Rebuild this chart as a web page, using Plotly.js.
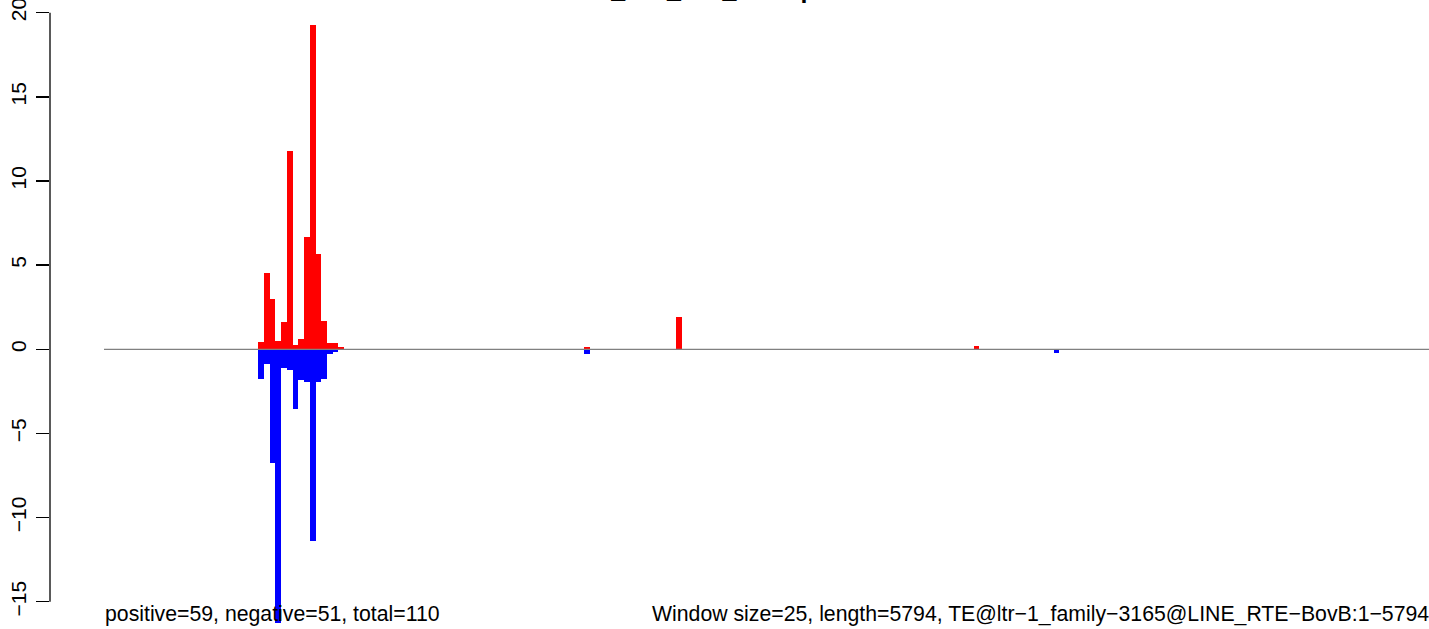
<!DOCTYPE html>
<html>
<head>
<meta charset="utf-8">
<script src="https://cdn.plot.ly/plotly-3.0.1.min.js"></script>
<style>html,body{margin:0;padding:0;background:#fff;}#chart{width:1429px;height:629px;}</style>
</head>
<body>
<div id="chart"></div>
<script>
// ---- data ----
const windowSize = 25;
const seqLength = 5794;
const windowStarts = [676, 701, 726, 751, 776, 801, 826, 851, 876, 901, 926, 951, 976, 1001, 1026, 2101, 2501, 3801, 4151];
const positiveValues = [0.43, 4.53, 2.97, 0.49, 1.6, 11.76, 0.26, 0.61, 6.65, 19.25, 5.64, 1.66, 0.39, 0.39, 0.12, 0.14, 1.9, 0.2, 0];
const negativeValues = [-1.76, -0.9, -6.76, -16.24, -1.12, -1.22, -3.57, -1.8, -1.94, -11.4, -1.94, -1.76, -0.26, -0.15, 0, -0.26, 0, 0, -0.22];
const yTicks = [-15, -10, -5, 0, 5, 10, 15, 20];
const titleText = "Bovine_001_002_rRNApooled";
const leftNote = "positive=59, negative=51, total=110";
const rightNote = "Window size=25, length=5794, TE@ltr\u22121_family\u22123165@LINE_RTE\u2212BovB:1\u22125794";

// ---- build traces ----
const font = '"Liberation Sans", Arial, Helvetica, sans-serif';
const centers = windowStarts.map(s => s - 1 + windowSize / 2);
const posX = [], posY = [], negX = [], negY = [];
windowStarts.forEach((s, i) => {
  if (positiveValues[i] !== 0) { posX.push(centers[i]); posY.push(positiveValues[i]); }
  if (negativeValues[i] !== 0) { negX.push(centers[i]); negY.push(negativeValues[i]); }
});

const traces = [
  { type: 'scatter', mode: 'lines', x: [1, seqLength], y: [0, 0],
    line: { color: '#808080', width: 1.3 }, hoverinfo: 'skip', showlegend: false, cliponaxis: true },
  { type: 'bar', x: posX, y: posY, width: windowSize, marker: { color: '#FF0000', line: { width: 0 } }, showlegend: false },
  { type: 'bar', x: negX, y: negY, width: windowSize, marker: { color: '#0000FF', line: { width: 0 } }, showlegend: false }
];

// pixel mapping: bp 1 at 104px, 0.2289 px per bp, plot starts at 50px
const W = 1429, H = 629, L = 50;
const pxPerBp = 0.2289;
const xLeft = 1 - (104 - L) / pxPerBp;
const xRight = 1 + (W - 104) / pxPerBp;
const zeroPx = 349.3, pxPerUnit = 16.83;
const yTop = zeroPx / pxPerUnit;
const yBottom = -(H - zeroPx) / pxPerUnit;
const rightEndPaper = (104 + (seqLength - 1) * pxPerBp - L) / (W - L);

const layout = {
  width: W, height: H,
  margin: { l: L, r: 0, t: 0, b: 0, pad: 0 },
  paper_bgcolor: '#fff', plot_bgcolor: '#fff',
  barmode: 'overlay', bargap: 0,
  showlegend: false,
  xaxis: { type: 'linear', range: [xLeft, xRight], visible: false, fixedrange: true },
  yaxis: {
    range: [yBottom, yTop], tickvals: yTicks, ticktext: yTicks.map(v => v < 0 ? '\u2212' + Math.abs(v) : String(v)),
    ticks: 'outside', ticklen: 13, tickwidth: 1.3, tickcolor: '#000',
    showline: false, showgrid: false, zeroline: false, tickangle: -90,
    ticklabeloverflow: 'allow', ticklabelstandoff: 2,
    tickfont: { family: font, size: 21, color: '#000' }, fixedrange: true
  },
  shapes: [
    { type: 'line', xref: 'paper', yref: 'y', x0: 0, x1: 0, y0: Math.min(...yTicks), y1: Math.max(...yTicks),
      line: { color: '#000', width: 1.3 } }
  ],
  annotations: [
    { text: leftNote, xref: 'x', yref: 'y', x: 1, y: -15.73, xanchor: 'left', yanchor: 'middle',
      showarrow: false, borderpad: 0, font: { family: font, size: 21.25, color: '#000' } },
    { text: rightNote, xref: 'paper', yref: 'y', x: rightEndPaper, y: -15.73, xanchor: 'right', yanchor: 'middle',
      showarrow: false, borderpad: 0, font: { family: font, size: 21.25, color: '#000' } },
    { text: '<b>' + titleText + '</b>', xref: 'paper', yref: 'paper', x: (527 - L) / (W - L), y: 1,
      xanchor: 'left', yanchor: 'bottom', yshift: -4, showarrow: false, borderpad: 0,
      font: { family: font, size: 25, color: '#000' } }
  ]
};

Plotly.newPlot('chart', traces, layout, { displayModeBar: false, staticPlot: true });
</script>
</body>
</html>
